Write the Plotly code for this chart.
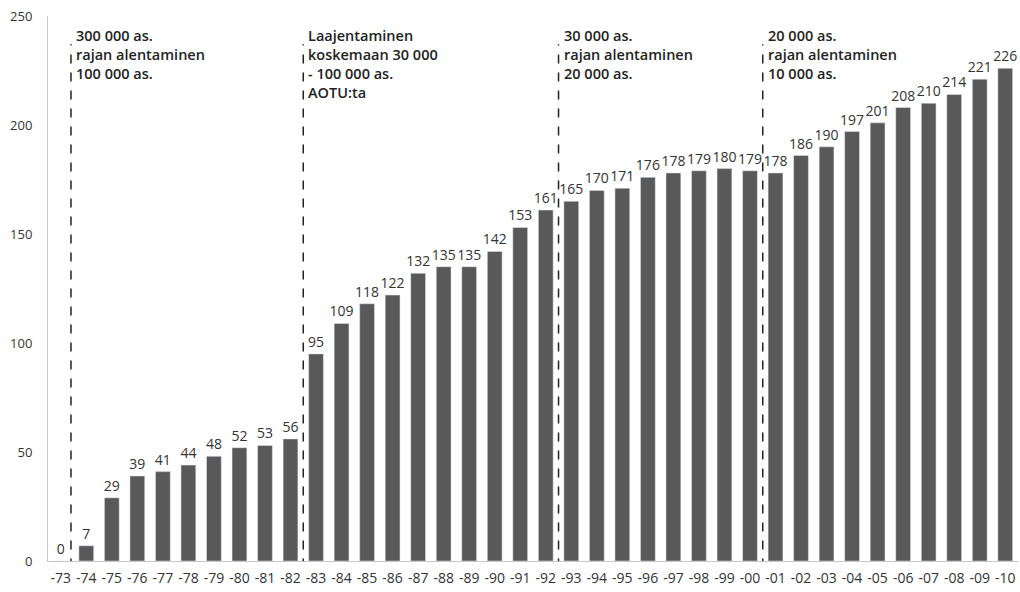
import plotly.graph_objects as go

years = ["-73","-74","-75","-76","-77","-78","-79","-80","-81","-82",
         "-83","-84","-85","-86","-87","-88","-89","-90","-91","-92",
         "-93","-94","-95","-96","-97","-98","-99","-00",
         "-01","-02","-03","-04","-05","-06","-07","-08","-09","-10"]
values = [0,7,29,39,41,44,48,52,53,56,
          95,109,118,122,132,135,135,142,153,161,
          165,170,171,176,178,179,180,179,
          178,186,190,197,201,208,210,214,221,226]
event_pos = [0.4, 9.5, 19.5, 27.5]
event_texts = [
    "300 000 as.<br>rajan alentaminen<br>100 000 as.",
    "Laajentaminen<br>koskemaan 30 000<br>- 100 000 as.<br>AOTU:ta",
    "30 000 as.<br>rajan alentaminen<br>20 000 as.",
    "20 000 as.<br>rajan alentaminen<br>10 000 as.",
]

FONT = "'Open Sans', Lato, sans-serif"
fig = go.Figure(go.Bar(
    x=years, y=values, marker_color="#595959",
    text=[str(v) for v in values], textposition="outside",
    constraintext="none",
    textfont=dict(family=FONT, size=14, color="#333333"),
    cliponaxis=False,
))

for xp, t in zip(event_pos, event_texts):
    fig.add_shape(type="line", xref="x", yref="y", x0=xp, x1=xp, y0=-3, y1=237,
                  line=dict(color="#222222", width=1.5, dash="dash"))
    fig.add_annotation(x=xp, y=246.5, xref="x", yref="y", text=t, showarrow=False,
                       xanchor="left", yanchor="top", xshift=3, align="left",
                       font=dict(family=FONT, size=14.5, color="#222222", weight=600))

fig.update_layout(
    width=1020, height=592, margin=dict(l=48, r=2, t=16, b=31),
    plot_bgcolor="white", paper_bgcolor="white", bargap=0.42,
    showlegend=False,
    font=dict(family=FONT, size=13, color="#333333"),
)
fig.update_xaxes(range=[-0.5, 37.5], showgrid=False, showline=True,
                 linecolor="#c8c8c8", linewidth=1, ticks="",
                 ticklabelstandoff=4,
                 tickfont=dict(family=FONT, size=14, color="#333333"))
fig.update_yaxes(range=[0, 250], dtick=50, showgrid=False, showline=True,
                 linecolor="#c8c8c8", linewidth=1, zeroline=False, ticks="",
                 ticklabelstandoff=12,
                 tickfont=dict(family=FONT, size=13, color="#333333"))
fig.write_html("out.html")
